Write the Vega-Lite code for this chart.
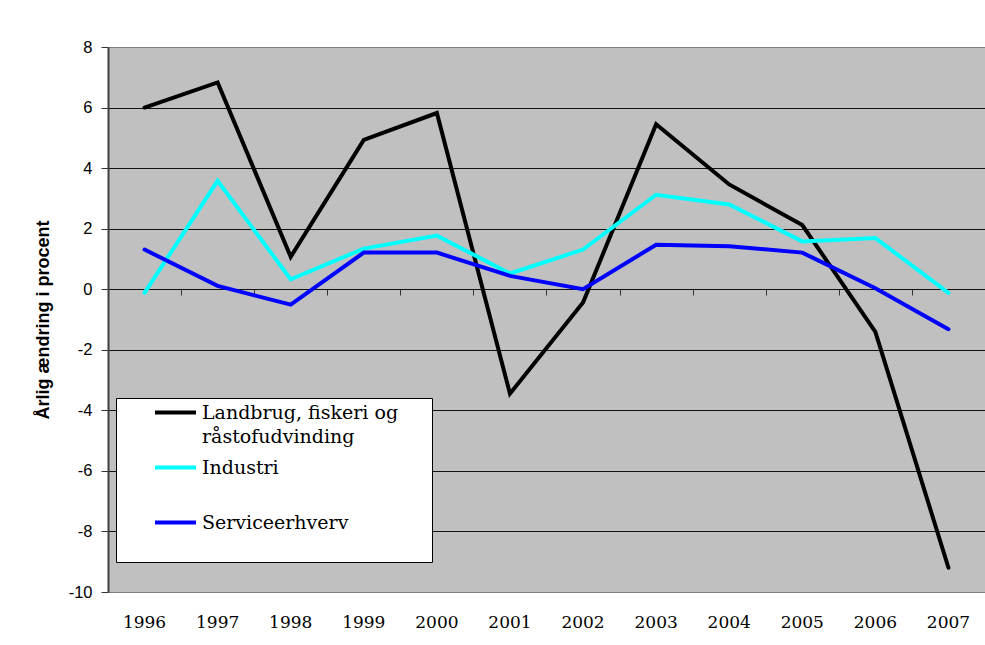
{
  "$schema": "https://vega.github.io/schema/vega-lite/v6.json",
  "width": 877,
  "height": 545,
  "autosize": {"type": "none"},
  "padding": {"left": 108, "top": 47, "right": 0, "bottom": 53},
  "background": "white",
  "config": {"view": {"fill": "#C0C0C0", "stroke": "#808080", "strokeWidth": 1}},
  "data": {
    "values": [
      {"year": "1996", "series": "Landbrug, fiskeri og råstofudvinding", "value": 6.0},
      {"year": "1997", "series": "Landbrug, fiskeri og råstofudvinding", "value": 6.83},
      {"year": "1998", "series": "Landbrug, fiskeri og råstofudvinding", "value": 1.07},
      {"year": "1999", "series": "Landbrug, fiskeri og råstofudvinding", "value": 4.93},
      {"year": "2000", "series": "Landbrug, fiskeri og råstofudvinding", "value": 5.82},
      {"year": "2001", "series": "Landbrug, fiskeri og råstofudvinding", "value": -3.45},
      {"year": "2002", "series": "Landbrug, fiskeri og råstofudvinding", "value": -0.44},
      {"year": "2003", "series": "Landbrug, fiskeri og råstofudvinding", "value": 5.45},
      {"year": "2004", "series": "Landbrug, fiskeri og råstofudvinding", "value": 3.46},
      {"year": "2005", "series": "Landbrug, fiskeri og råstofudvinding", "value": 2.12},
      {"year": "2006", "series": "Landbrug, fiskeri og råstofudvinding", "value": -1.41},
      {"year": "2007", "series": "Landbrug, fiskeri og råstofudvinding", "value": -9.2},
      {"year": "1996", "series": "Industri", "value": -0.12},
      {"year": "1997", "series": "Industri", "value": 3.58},
      {"year": "1998", "series": "Industri", "value": 0.33},
      {"year": "1999", "series": "Industri", "value": 1.34},
      {"year": "2000", "series": "Industri", "value": 1.77},
      {"year": "2001", "series": "Industri", "value": 0.52},
      {"year": "2002", "series": "Industri", "value": 1.31},
      {"year": "2003", "series": "Industri", "value": 3.12},
      {"year": "2004", "series": "Industri", "value": 2.8},
      {"year": "2005", "series": "Industri", "value": 1.58},
      {"year": "2006", "series": "Industri", "value": 1.69},
      {"year": "2007", "series": "Industri", "value": -0.12},
      {"year": "1996", "series": "Serviceerhverv", "value": 1.31},
      {"year": "1997", "series": "Serviceerhverv", "value": 0.11},
      {"year": "1998", "series": "Serviceerhverv", "value": -0.51},
      {"year": "1999", "series": "Serviceerhverv", "value": 1.21},
      {"year": "2000", "series": "Serviceerhverv", "value": 1.21},
      {"year": "2001", "series": "Serviceerhverv", "value": 0.44},
      {"year": "2002", "series": "Serviceerhverv", "value": 0.0},
      {"year": "2003", "series": "Serviceerhverv", "value": 1.47},
      {"year": "2004", "series": "Serviceerhverv", "value": 1.42},
      {"year": "2005", "series": "Serviceerhverv", "value": 1.21},
      {"year": "2006", "series": "Serviceerhverv", "value": 0.03},
      {"year": "2007", "series": "Serviceerhverv", "value": -1.32}
    ]
  },
  "layer": [
    {
      "mark": {"type": "line", "strokeWidth": 4, "strokeCap": "round", "strokeJoin": "miter"},
      "encoding": {
        "x": {
          "field": "year", "type": "ordinal", "bandPosition": 0.5,
          "scale": {"type": "band", "paddingInner": 0, "paddingOuter": 0},
          "axis": {"orient": "bottom", "title": null, "labelAngle": 0, "ticks": false, "domain": false, "grid": false,
                   "labelFont": "DejaVu Serif", "labelFontSize": 17, "labelColor": "black", "labelPadding": 22}
        },
        "y": {
          "field": "value", "type": "quantitative",
          "scale": {"domain": [-10, 8], "nice": false, "zero": false},
          "axis": {
            "title": "Årlig ændring i procent", "titleFont": "Liberation Sans", "titleFontWeight": "bold",
            "titleFontSize": 18, "titleColor": "black", "titlePadding": 16,
            "values": [-10, -8, -6, -4, -2, 0, 2, 4, 6, 8],
            "labelExpr": "'' + datum.value",
            "labelFont": "Liberation Sans", "labelFontSize": 16.5, "labelColor": "black", "labelPadding": 9,
            "tickSize": 7, "tickColor": "#333333", "domainColor": "#404040", "domainWidth": 2,
            "grid": true, "gridWidth": 1, "gridOpacity": 1,
            "gridColor": {"condition": {"test": "datum.value == 8 || datum.value == -10", "value": "#808080"}, "value": "#111111"}
          }
        },
        "color": {
          "field": "series", "type": "nominal",
          "scale": {"domain": ["Landbrug, fiskeri og råstofudvinding", "Industri", "Serviceerhverv"], "range": ["#000000", "#00FFFF", "#0000FF"]},
          "legend": {
            "orient": "none", "legendX": 8, "legendY": 351, "title": null,
            "fillColor": "white", "strokeColor": "black", "padding": 5,
            "symbolType": "M-4,0H4", "symbolSize": 105, "symbolStrokeWidth": 4, "symbolOffset": 45,
            "labelFont": "DejaVu Serif", "labelFontSize": 19, "labelColor": "black", "labelOffset": 17,
            "labelBaseline": "alphabetic", "rowPadding": 11, "labelLimit": 500,
            "labelExpr": "datum.label == 'Landbrug, fiskeri og råstofudvinding' ? ['Landbrug, fiskeri og\u2003\u2002\u200b', 'råstofudvinding'] : [datum.label, '']",
            "encode": {"labels": {"update": {"dy": {"value": 6}, "lineHeight": {"value": 24}}}}
          }
        }
      }
    },
    {
      "mark": {"type": "line", "opacity": 0},
      "encoding": {
        "x": {
          "field": "year", "type": "ordinal", "bandPosition": 0.5,
          "axis": {"orient": "bottom", "offset": -303, "labels": false, "title": null, "domain": true, "domainColor": "#111111",
                   "ticks": true, "tickBand": "extent", "tickSize": 6, "tickColor": "#333333", "grid": false}
        },
        "y": {"field": "value", "type": "quantitative", "axis": null}
      }
    }
  ],
  "resolve": {"axis": {"x": "independent", "y": "independent"}}
}
